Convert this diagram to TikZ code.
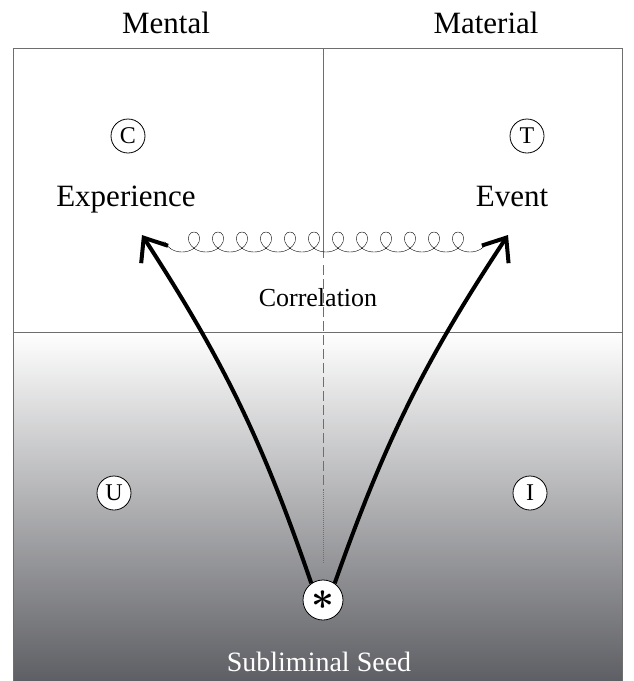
\documentclass[tikz,border=0pt]{standalone}
\usepackage{amsmath}
\usepackage{fontspec}
\setmainfont{Liberation Serif}
\usetikzlibrary{arrows.meta,decorations.pathmorphing}

\definecolor{shademid}{RGB}{190,191,194}
\definecolor{shadebot}{RGB}{94,95,100}
\definecolor{rule}{RGB}{110,110,110}

\tikzset{
  heading/.style={font=\fontsize{31}{31}\selectfont, anchor=base},
  quad/.style={circle, draw, fill=white, line width=0.8pt, inner sep=0pt,
    minimum size=34pt, font=\fontsize{24}{24}\selectfont},
  flow/.style={line width=4pt, -{Straight Barb[length=20pt,width=32pt]}},
  spring/.style={decorate, decoration={coil, aspect=1.1, segment length=24pt,
    amplitude=10pt}},
}

\begin{document}
\begin{tikzpicture}[x=1pt,y=-1pt]
	\useasboundingbox (0,0) rectangle (633,681);
	
	% quadrants
	\fill[white] (13,48) rectangle (622,332);
	\shade[top color=white, middle color=shademid, bottom color=shadebot]
		(13,332) rectangle (622,681);
	\draw[rule, line width=1pt] (13,48) rectangle (622,681);
	\draw[rule] (13,332) -- (622,332);
	\draw[rule] (323,48) -- (323,258);
	\draw[rule, dash pattern=on 10pt off 4pt] (323,265) -- (323,490);
	\draw[rule, dash pattern=on 1pt off 1pt] (323,490) -- (323,563);
	
	% headings
	\node[heading] (mental) at (166,33) {Mental};
	\node[heading] (material) at (486,33) {Material};
	\node[heading] (experience) at (126,206) {Experience};
	\node[heading] (event) at (512,206) {Event};
	\node[font=\fontsize{26}{26}\selectfont] (correlation) at (318,298) {Correlation};
	
	% corners
	\node[quad] (c) at (128,136) {C};
	\node[quad] (t) at (527,136) {T};
	\node[quad] (u) at (114,493) {U};
	\node[quad] (i) at (530,493) {I};
	
	% seed
	\node[quad, minimum size=40pt] (seed) at (323,600) {\scalebox{1.6}{$\boldsymbol{\ast}$}};
	\node[heading, font=\fontsize{28}{28}\selectfont, white] (seedtext) at (319,671) {Subliminal Seed};
	
	% arrows and spring
	\coordinate (exptip) at (142,235);
	\coordinate (evttip) at (508,235);
	\coordinate (springl) at (160,242);
	\coordinate (springr) at (487,242);
	\draw[flow] (seed.125) to[bend right=7] (exptip);
	\draw[flow] (seed.55) to[bend left=7] (evttip);
	\draw[spring] (springr) -- (springl);
\end{tikzpicture}
\end{document}
